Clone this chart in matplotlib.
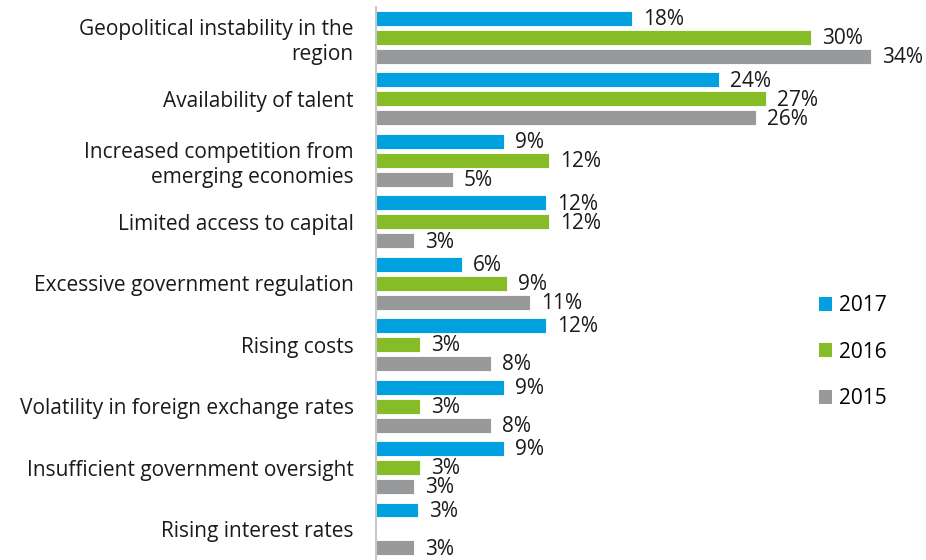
import matplotlib
matplotlib.use('Agg')
import matplotlib.pyplot as plt
from matplotlib.patches import Patch
import numpy as np

# data
categories = [
    "Geopolitical instability in the\nregion",
    "Availability of talent",
    "Increased competition from\nemerging economies",
    "Limited access to capital",
    "Excessive government regulation",
    "Rising costs",
    "Volatility in foreign exchange rates",
    "Insufficient government oversight",
    "Rising interest rates",
]
series_names = ["2017", "2016", "2015"]
v2017 = [17.6, 23.6, 8.8, 11.7, 5.9, 11.7, 8.8, 8.8, 2.9]
v2016 = [29.9, 26.8, 11.9, 11.9, 9.0, 3.0, 3.0, 3.0, None]
v2015 = [34.0, 26.1, 5.3, 2.6, 10.6, 7.9, 7.9, 2.6, 2.6]

C_BLUE = "#00A1DE"
C_GREEN = "#86BC25"
C_GRAY = "#97999B"
colors = [C_BLUE, C_GREEN, C_GRAY]
FONT = "Open Sans"
FS = 15

fig = plt.figure(figsize=(9.26, 5.6), dpi=100)
ax = fig.add_axes([376 / 926, 0, 1 - 376 / 926, 553 / 560])

y = np.arange(len(categories))
off = 0.309
h = 0.244

for k, (vals, col) in enumerate(zip([v2017, v2016, v2015], colors)):
    for i, v in enumerate(vals):
        if v is None:
            continue
        yy = y[i] + (k - 1) * off
        ax.barh(yy, v, height=h, color=col, edgecolor='white', linewidth=0.6)
        ax.text(v + 0.75, yy + 0.02, f"{int(round(v))}%", va='center', ha='left',
                fontsize=FS, fontfamily=FONT, color="#1a1a1a")

ax.set_xlim(0, 37.8)
ax.set_ylim(8.505, -0.497)
ax.set_yticks(y)
ax.set_yticklabels(categories, fontsize=FS, fontfamily=FONT, color="#1a1a1a",
                   linespacing=1.25)
ax.tick_params(axis='y', length=0, pad=16)
ax.set_xticks([])
for s in ['top', 'right', 'bottom']:
    ax.spines[s].set_visible(False)
ax.spines['left'].set_color("#c8c8c8")
ax.spines['left'].set_linewidth(1.5)

handles = [Patch(facecolor=c, edgecolor='none') for c in colors]
leg = fig.legend(handles, series_names, loc='center left',
                 bbox_to_anchor=(800 / 926, 1 - 352 / 560), frameon=False,
                 prop={'family': FONT, 'size': FS}, handlelength=0.65,
                 handleheight=0.65, handletextpad=0.3, labelspacing=1.22)

plt.savefig("out.png", dpi=100)
